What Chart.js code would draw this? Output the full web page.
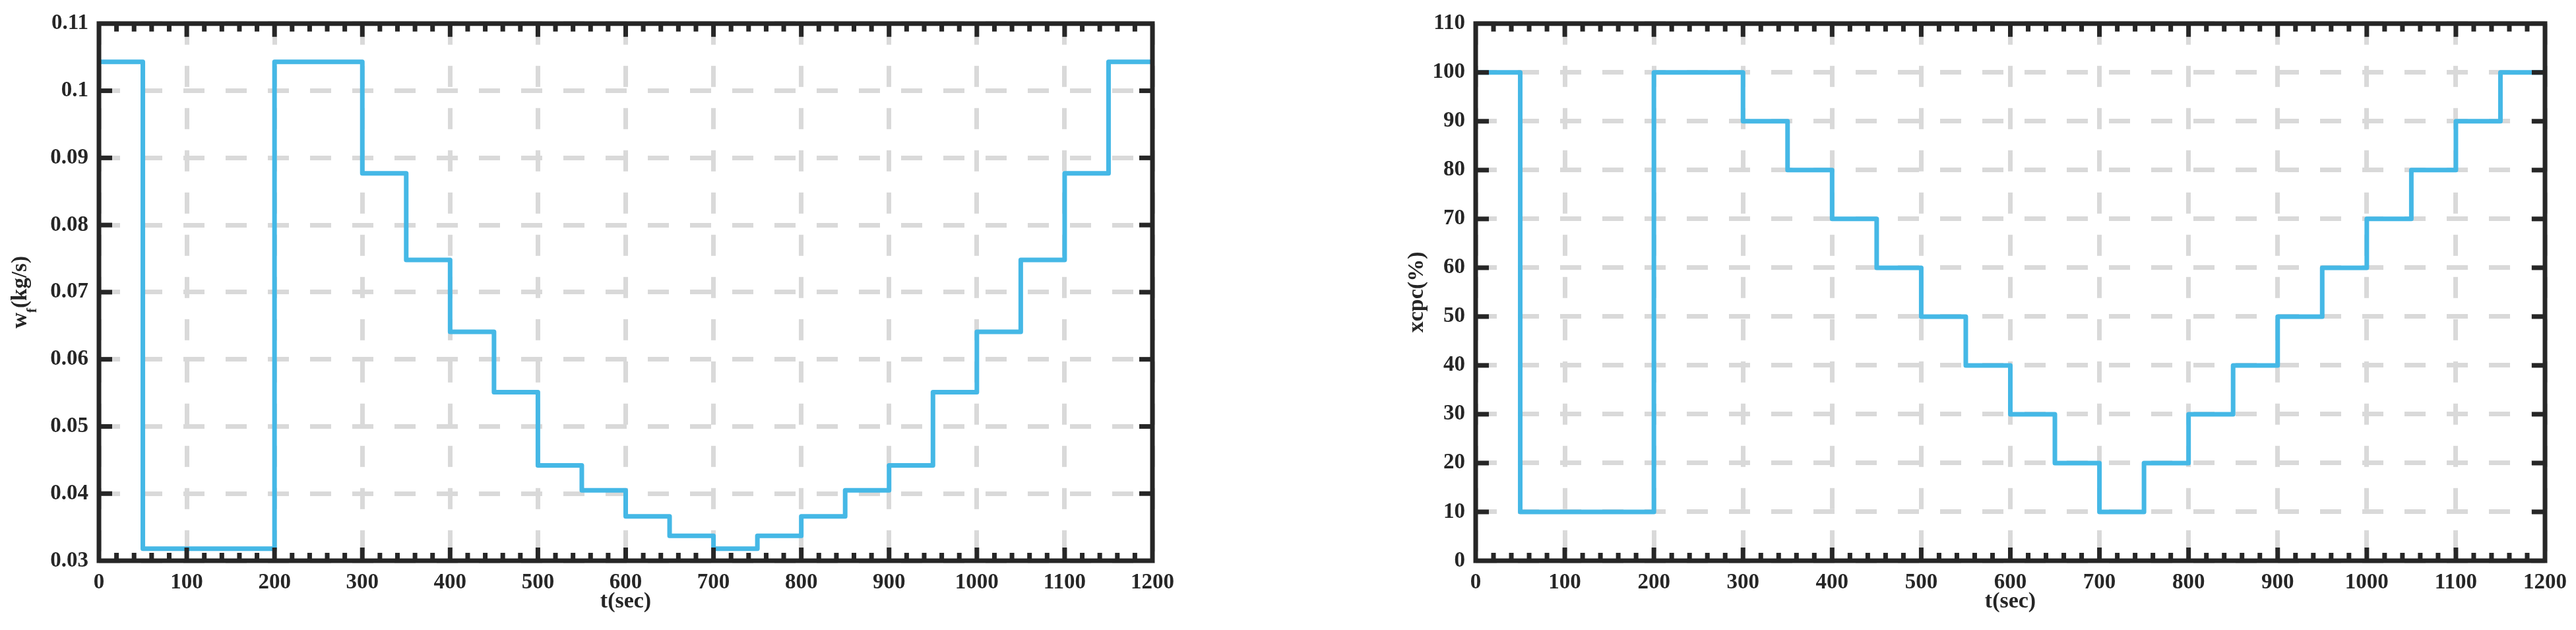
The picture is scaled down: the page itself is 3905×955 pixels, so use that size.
<!DOCTYPE html>
<html>
<head>
<meta charset="utf-8">
<script src="https://cdn.jsdelivr.net/npm/chart.js@4/dist/chart.umd.min.js"></script>
<style>
    html, body { margin: 0; padding: 0; background: #fff; }
    body { width: 3905px; height: 955px; position: relative; overflow: hidden; }
    canvas { position: absolute; top: 0; }
    #fuelChart { left: 0; }
    #xcpcChart { left: 2100px; }
</style>
</head>
<body>
<canvas id="fuelChart" width="1800" height="955"></canvas>
<canvas id="xcpcChart" width="1805" height="955"></canvas>
<script>
// segment start times (sec); last entry closes the final step
const stepTimes = [0, 50, 200, 300, 350, 400, 450, 500, 550, 600, 650, 700,
                   750, 800, 850, 900, 950, 1000, 1050, 1100, 1150, 1200];

// fuel flow w_f (kg/s) held from each start time
const fuelFlow = [0.1043, 0.0318, 0.1043, 0.0877, 0.0748, 0.0641, 0.0551, 0.0442,
                  0.0405, 0.0366, 0.0337, 0.0318, 0.0337, 0.0366, 0.0405, 0.0442,
                  0.0551, 0.0641, 0.0748, 0.0877, 0.1043, 0.1043];

// xcpc (%) held from each start time
const xcpcPercent = [100, 10, 100, 90, 80, 70, 60, 50, 40, 30, 20, 10,
                     20, 30, 40, 50, 60, 70, 80, 90, 100, 100];

const timeAxis = { min: 0, max: 1200, step: 100, minorStep: 20 };
const fuelAxis = { min: 0.03, max: 0.11, step: 0.01 };
const xcpcAxis = { min: 0, max: 110, step: 10 };

const LINE_COLOR = '#45b8e6';
const AXIS_COLOR = '#262626';
const GRID_COLOR = '#d9d9d9';
const FONT_FAMILY = '"Liberation Serif", "Times New Roman", serif';

const tickFont = { family: FONT_FAMILY, size: 33, weight: 'bold' };
const titleFont = { family: FONT_FAMILY, size: 34, weight: 'bold', lineHeight: 1.2 };

// boxed axes with inward ticks on all four sides, drawn on top of the line
const boxAxesPlugin = {
    id: 'boxAxes',
    afterDatasetsDraw(chart) {
        const { ctx, chartArea: a, scales: { x, y } } = chart;
        const w = 7;
        ctx.save();
        ctx.fillStyle = AXIS_COLOR;

        for (let t = x.min + timeAxis.minorStep; t < x.max; t += timeAxis.minorStep) {
            const px = x.getPixelForValue(t);
            const len = t % timeAxis.step === 0 ? 20 : 12;
            ctx.fillRect(px - w / 2, a.bottom - len, w, len);
            ctx.fillRect(px - w / 2, a.top, w, len);
        }

        y.ticks.forEach(tick => {
            if (tick.value <= y.min || tick.value >= y.max) return;
            const py = y.getPixelForValue(tick.value);
            ctx.fillRect(a.left, py - w / 2, 20, w);
            ctx.fillRect(a.right - 20, py - w / 2, 20, w);
        });

        ctx.strokeStyle = AXIS_COLOR;
        ctx.lineWidth = w;
        ctx.lineJoin = 'miter';
        ctx.strokeRect(a.left, a.top, a.right - a.left, a.bottom - a.top);
        ctx.restore();
    }
};

// y title with a subscript, Chart.js titles cannot do that
const fuelTitlePlugin = {
    id: 'fuelTitle',
    afterDraw(chart) {
        const { ctx, chartArea: a } = chart;
        const parts = [
            { text: 'w', size: 33, dy: 0 },
            { text: 'f', size: 21, dy: 15 },
            { text: '(kg/s)', size: 33, dy: 0 }
        ];
        ctx.save();
        let total = 0;
        parts.forEach(p => {
            ctx.font = `bold ${p.size}px ${FONT_FAMILY}`;
            p.width = ctx.measureText(p.text).width;
            total += p.width;
        });
        ctx.translate(40, (a.top + a.bottom) / 2);
        ctx.rotate(-Math.PI / 2);
        ctx.fillStyle = AXIS_COLOR;
        ctx.textBaseline = 'alphabetic';
        let cx = -total / 2;
        parts.forEach(p => {
            ctx.font = `bold ${p.size}px ${FONT_FAMILY}`;
            ctx.fillText(p.text, cx, p.dy);
            cx += p.width;
        });
        ctx.restore();
    }
};

function buildOptions(yRange, yWidth, padRight, yTitle, yFormat) {
    return {
        responsive: false,
        animation: false,
        layout: { padding: { top: 21, right: padRight, bottom: 0, left: 0 } },
        plugins: { legend: { display: false }, tooltip: { enabled: false } },
        scales: {
            x: {
                type: 'linear',
                min: timeAxis.min,
                max: timeAxis.max,
                ticks: {
                    stepSize: timeAxis.step,
                    font: tickFont,
                    color: AXIS_COLOR,
                    padding: 14,
                    maxRotation: 0,
                    autoSkip: false,
                    callback: v => String(Math.round(v))
                },
                grid: { color: GRID_COLOR, lineWidth: 7, drawTicks: false },
                border: { display: false, dash: [32, 32] },
                title: {
                    display: true,
                    text: 't(sec)',
                    font: titleFont,
                    color: AXIS_COLOR,
                    padding: { top: 0, bottom: 22 }
                },
                afterFit: scale => { scale.height = 105; }
            },
            y: {
                min: yRange.min,
                max: yRange.max,
                ticks: {
                    stepSize: yRange.step,
                    font: tickFont,
                    color: AXIS_COLOR,
                    padding: 16,
                    callback: yFormat
                },
                grid: { color: GRID_COLOR, lineWidth: 7, drawTicks: false },
                border: { display: false, dash: [32, 32] },
                title: {
                    display: !!yTitle,
                    text: yTitle || '',
                    font: titleFont,
                    color: AXIS_COLOR,
                    padding: { top: 28, bottom: 0 }
                },
                afterFit: scale => { scale.width = yWidth; }
            }
        }
    };
}

function stepDataset(values) {
    return {
        data: stepTimes.map((t, i) => ({ x: t, y: values[i] })),
        stepped: 'before',
        borderColor: LINE_COLOR,
        borderWidth: 7,
        borderJoinStyle: 'round',
        borderCapStyle: 'round',
        pointRadius: 0,
        fill: false
    };
}

new Chart(document.getElementById('fuelChart'), {
    type: 'line',
    data: { datasets: [stepDataset(fuelFlow)] },
    options: buildOptions(fuelAxis, 150, 53, null, v => String(Number(v.toFixed(2)))),
    plugins: [boxAxesPlugin, fuelTitlePlugin]
});

new Chart(document.getElementById('xcpcChart'), {
    type: 'line',
    data: { datasets: [stepDataset(xcpcPercent)] },
    options: buildOptions(xcpcAxis, 137, 45, 'xcpc(%)', v => String(Math.round(v))),
    plugins: [boxAxesPlugin]
});
</script>
</body>
</html>
